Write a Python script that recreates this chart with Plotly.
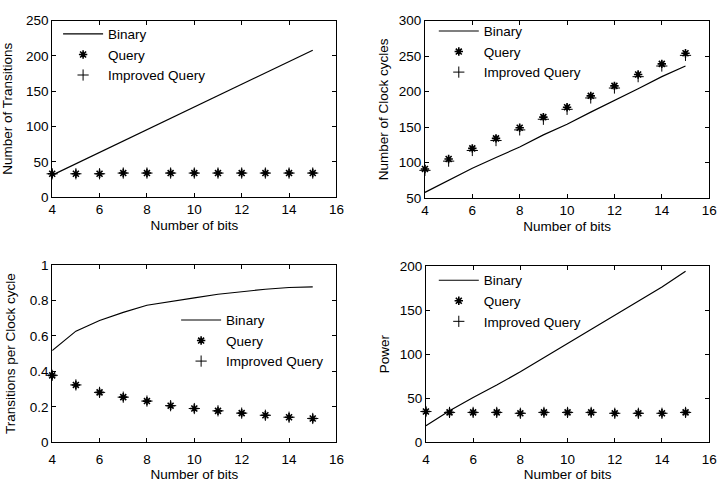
import plotly.graph_objects as go

bits = [4, 5, 6, 7, 8, 9, 10, 11, 12, 13, 14, 15]

# Panel 1: Number of Transitions
trans_binary = [31, 47, 63, 80, 96, 112, 127, 143, 160, 176, 192, 208]
trans_query = [33, 33, 33, 34, 34, 34, 34, 34, 34, 34, 34, 34]
trans_improved = [33, 33, 33, 34, 34, 34, 34, 34, 34, 34, 34, 34]

# Panel 2: Number of Clock cycles
clk_binary = [58, 75, 92, 107, 122, 139, 154, 171, 187, 204, 221, 236]
clk_query = [91, 105, 120, 134, 149, 164, 178, 194, 208, 224, 239, 254]
clk_improved = [89, 102, 117, 131, 146, 161, 175, 191, 205, 221, 236, 251]

# Panel 3: Transitions per Clock cycle
tpc_binary = [0.518, 0.627, 0.687, 0.733, 0.773, 0.796, 0.815, 0.835, 0.851, 0.863, 0.873, 0.876]
tpc_query = [0.378, 0.324, 0.282, 0.255, 0.233, 0.207, 0.191, 0.178, 0.165, 0.153, 0.142, 0.135]
tpc_improved = [0.378, 0.324, 0.282, 0.255, 0.233, 0.207, 0.191, 0.178, 0.165, 0.153, 0.142, 0.135]

# Panel 4: Power
pow_binary = [19, 36, 51, 65, 80, 96, 112, 128, 144, 160, 176, 194]
pow_query = [35, 34, 34, 34, 33, 34, 34, 34, 33, 33, 33, 34]
pow_improved = [35, 34, 34, 34, 33, 34, 34, 34, 33, 33, 33, 34]

y_titles = ["Number of Transitions", "Number of Clock cycles",
            "Transitions per Clock cycle", "Power"]
x_title = "Number of bits"

FONT = "Liberation Sans, Arial, Helvetica, sans-serif"
FS = 13.5
W, H = 728, 496

panels = [
    (trans_binary, trans_query, trans_improved),
    (clk_binary, clk_query, clk_improved),
    (tpc_binary, tpc_query, tpc_improved),
    (pow_binary, pow_query, pow_improved),
]

# pixel boxes (left, right, top, bottom)
boxes = [(49, 338, 14, 196), (428, 717, 14, 197), (49, 338, 266, 449), (429, 717, 267, 449)]
yranges = [[0, 250], [50, 300], [0, 1], [0, 200]]
ydticks = [50, 50, 0.2, 50]
legend_pos = [(55, 12), (437, 9), (175, 307), (437, 266)]
ystandoff = [12, 6, 10, 6]
xlabel_standoff = [0, 0, 4, 4]
xtitle_standoff = [4, 4, 3, 3]

fig = go.Figure()
for i, (b, q, iq) in enumerate(panels):
    n = "" if i == 0 else str(i + 1)
    xa, ya = "x" + n, "y" + n
    leg = "legend" + n
    fig.add_trace(go.Scatter(x=bits, y=b, mode="lines", name="Binary",
                             line=dict(color="black", width=1.2),
                             xaxis=xa, yaxis=ya, legend=leg, legendgroup="b" + n,
                             cliponaxis=False))
    fig.add_trace(go.Scatter(x=bits, y=q, mode="markers", name="Query",
                             marker=dict(symbol="asterisk-open", size=7, color="black",
                                         line=dict(color="black", width=1.6)),
                             xaxis=xa, yaxis=ya, legend=leg, legendgroup="q" + n,
                             cliponaxis=False))
    fig.add_trace(go.Scatter(x=bits, y=iq, mode="markers", name="Improved Query",
                             marker=dict(symbol="cross-thin-open", size=8, color="black",
                                         line=dict(color="black", width=1)),
                             xaxis=xa, yaxis=ya, legend=leg, legendgroup="i" + n,
                             cliponaxis=False))
    l, r, t, btm = boxes[i]
    axcommon = dict(showline=True, linecolor="black", linewidth=1, mirror="ticks",
                    ticks="inside", ticklen=4, tickcolor="black", showgrid=False,
                    zeroline=False, tickfont=dict(family=FONT, size=FS, color="black"))
    fig.layout["xaxis" + n] = dict(domain=[l / W, r / W], anchor=ya, range=[4, 16],
                                   tick0=4, dtick=2, ticklabelstandoff=xlabel_standoff[i],
                                   title=dict(text=x_title, standoff=xtitle_standoff[i],
                                              font=dict(family=FONT, size=FS, color="black")),
                                   **axcommon)
    fig.layout["yaxis" + n] = dict(domain=[1 - btm / H, 1 - t / H], anchor=xa,
                                   range=yranges[i], dtick=ydticks[i], tick0=0,
                                   title=dict(text=y_titles[i], standoff=ystandoff[i],
                                              font=dict(family=FONT, size=FS, color="black")),
                                   **axcommon)
    lx, ly = legend_pos[i]
    fig.layout[leg] = dict(x=lx / W, y=1 - ly / H, xref="paper", yref="paper",
                           xanchor="left", yanchor="top", bgcolor="rgba(0,0,0,0)",
                           borderwidth=0, itemwidth=40, tracegroupgap=0,
                           font=dict(family=FONT, size=FS, color="black"))

fig.update_layout(width=W, height=H, margin=dict(l=0, r=0, t=0, b=0),
                  plot_bgcolor="white", paper_bgcolor="white", showlegend=True,
                  font=dict(family=FONT, size=FS, color="black"))
fig.write_html("out.html")
